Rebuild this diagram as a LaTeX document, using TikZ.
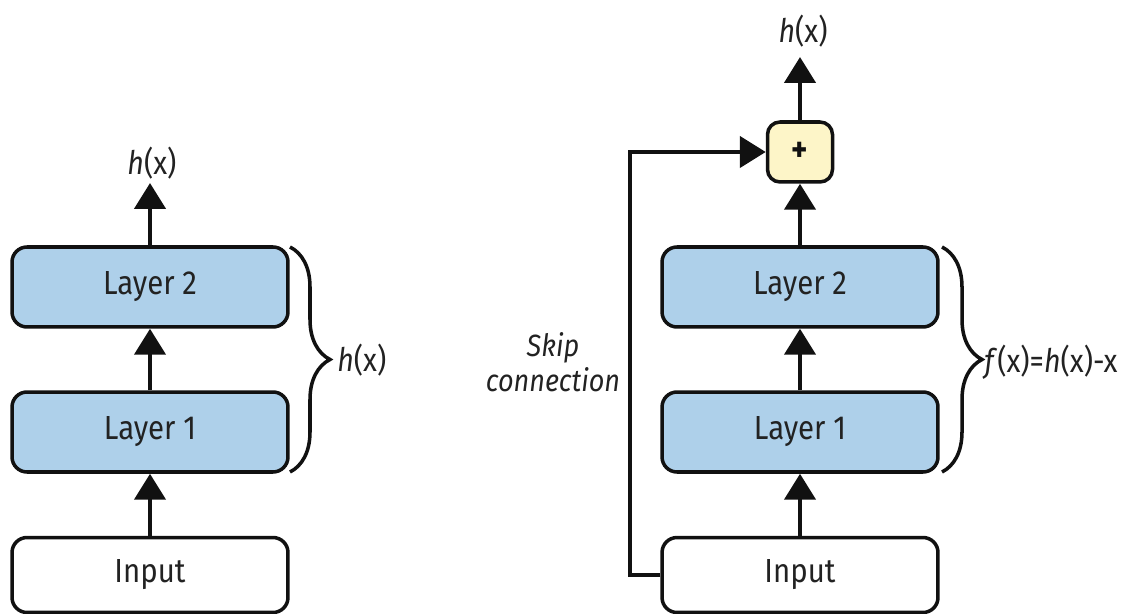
\documentclass[tikz,border=0pt]{standalone}
\usepackage{fontspec}
\setmainfont[FakeStretch=0.88]{Fira Sans}
\usetikzlibrary{arrows.meta,decorations.pathreplacing}

\definecolor{layerblue}{HTML}{AED0EA}
\definecolor{plusyellow}{HTML}{FDF5C8}
\definecolor{ink}{HTML}{111111}
\definecolor{txt}{HTML}{222222}

\begin{document}
\begin{tikzpicture}[x=0.02cm,y=-0.02cm,
  box/.style={draw=ink, line width=2pt, rounded corners=0.3cm, minimum width=5.52cm, minimum height=1.6cm, font=\fontsize{19}{22}\selectfont, text=txt, inner sep=0pt},
  layer/.style={box, fill=layerblue},
  inbox/.style={box, fill=white, minimum height=1.5cm},
  plusbox/.style={draw=ink, line width=2pt, rounded corners=0.25cm, fill=plusyellow, minimum width=1.3cm, minimum height=1.2cm, inner sep=0pt, font=\fontsize{20}{22}\selectfont\bfseries, text=ink},
  flow/.style={draw=ink, line width=2.6pt, -{Triangle[length=0.52cm,width=0.62cm]}},
  lbl/.style={font=\fontsize{18.5}{21}\selectfont, text=txt, inner sep=0pt},
  bracestyle/.style={draw=ink, line width=2pt, decorate, decoration={brace, amplitude=0.8cm}}
]
\useasboundingbox (0,0) rectangle (1138,614);
\clip (0,0) rectangle (1138,614);

% left: plain network
\node[layer] (l2a) at (150,287) {Layer 2};
\node[layer] (l1a) at (150,432) {Layer 1};
\node[inbox] (ina) at (150,575) {Input};
\coordinate (outa) at (150,183);
\node[lbl] (ha) at (152,163) {\textit{h}(x)};
\draw[flow] (ina) -- (l1a);
\draw[flow] (l1a) -- (l2a);
\draw[flow] (l2a) -- (outa);
\coordinate (bta) at (290,247);
\coordinate (bba) at (290,472);
\draw[bracestyle] (bta) -- (bba);
\node[lbl, anchor=west] (hb) at (337,360) {\textit{h}(x)};

% right: residual block
\node[plusbox] (plus) at (800,152) {+};
\node[layer] (l2b) at (800,287) {Layer 2};
\node[layer] (l1b) at (800,432) {Layer 1};
\node[inbox] (inb) at (800,575) {Input};
\coordinate (outb) at (800,57);
\node[lbl] (hc) at (803,31) {\textit{h}(x)};
\draw[flow] (inb) -- (l1b);
\draw[flow] (l1b) -- (l2b);
\draw[flow] (l2b) -- (plus);
\draw[flow] (plus) -- (outb);
\coordinate (sk) at (630,152);
\draw[flow] (inb.west) -| (sk) -- (plus.west);
\node[lbl, align=center, font=\fontsize{17.5}{20}\selectfont\itshape] (skl) at (553,362) {Skip\\connection};
\coordinate (btb) at (942,247);
\coordinate (bbb) at (942,472);
\draw[bracestyle] (btb) -- (bbb);
\node[lbl, anchor=west] (fb) at (984,362) {\textit{f}(x)=\textit{h}(x)-x};
\end{tikzpicture}
\end{document}
